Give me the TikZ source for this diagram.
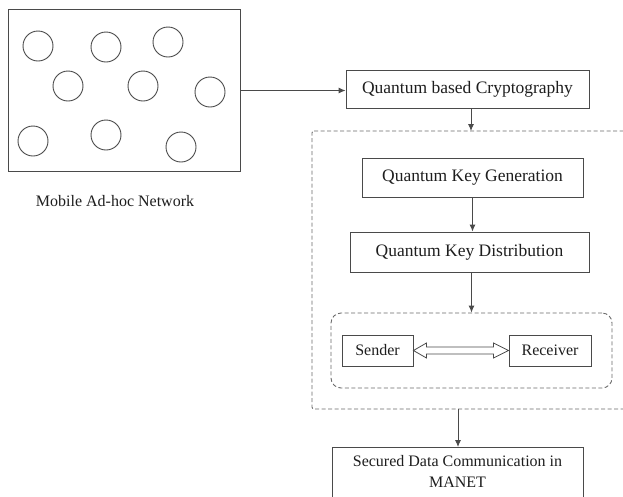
\documentclass[tikz,border=0pt]{standalone}
\usepackage{fontspec}
\setmainfont{Liberation Serif}
\usetikzlibrary{arrows.meta,calc}
\definecolor{ln}{HTML}{4A4A4A}
\definecolor{dl}{HTML}{6A6A6A}
\definecolor{tx}{HTML}{1E1E1E}
\tikzset{
  box/.style={draw=ln, line width=0.9pt, rectangle, inner sep=0pt, text=tx},
  nodec/.style={draw=ln, line width=0.9pt, circle, minimum size=30pt, inner sep=0pt},
  dsh/.style={draw=dl, line width=0.9pt, dash pattern=on 4pt off 2.5pt},
  arr/.style={draw=ln, line width=0.9pt, -{Latex[length=7pt,width=6pt]}},
  big/.style={font=\fontsize{17.5}{20}\selectfont},
  small/.style={font=\fontsize{16}{21}\selectfont},
}
\begin{document}
\begin{tikzpicture}[x=1pt,y=-1pt]
\useasboundingbox (0,0) rectangle (623,496);
\clip (0,0) rectangle (623,496);
\fill[white] (0,0) rectangle (623,496);
% MANET box
\node[box, minimum width=232pt, minimum height=162pt] (manet) at (124,90.5) {};
\node[nodec] (c1) at (38,46) {};
\node[nodec] (c2) at (106,47) {};
\node[nodec] (c3) at (168,42) {};
\node[nodec] (c4) at (68,86) {};
\node[nodec] (c5) at (143,86) {};
\node[nodec] (c6) at (210,92) {};
\node[nodec] (c7) at (33,141) {};
\node[nodec] (c8) at (106,135) {};
\node[nodec] (c9) at (181,147) {};
\node[small, text=tx] (mlabel) at (115,201) {Mobile Ad-hoc Network};
% right column
\node[box, big, minimum width=243pt, minimum height=38pt] (qbc) at (467.5,89.5) {Quantum based Cryptography};
\draw[dsh, rounded corners=2pt] (312,131) -- (640,131) -- (640,409) -- (312,409) -- cycle;
\coordinate (otop) at (471,131);
\coordinate (obot) at (458,409);
\node[box, big, minimum width=221pt, minimum height=39pt] (qkg) at (472.5,177.5) {Quantum Key Generation};
\node[box, big, minimum width=239pt, minimum height=40pt] (qkd) at (469.5,252) {Quantum Key Distribution};
\node[dsh, rounded corners=10pt, rectangle, minimum width=281pt, minimum height=75pt] (inner) at (471.5,350.5) {};
\node[box, small, minimum width=71pt, minimum height=31pt] (snd) at (377.5,350.5) {Sender};
\node[box, small, minimum width=82pt, minimum height=31pt] (rcv) at (550,350.5) {Receiver};
\node[box, minimum width=251pt, minimum height=70pt, anchor=north] (sec) at (457.5,447) {};
\node[small, text=tx, align=center, anchor=north] (sectext) at (457.5,452) {Secured Data Communication in\\MANET};
% connectors
\draw[arr] (manet.east) -- (manet.east -| qbc.west);
\draw[arr] (qbc.south -| otop) -- (otop);
\draw[arr] (qkg.south) -- (qkg.south |- qkd.north);
\draw[arr] (qkd.south -| inner.north) -- (inner.north);
\draw[arr] (obot) -- (obot |- sec.north);
% hollow double arrow
\draw[draw=ln, line width=0.8pt, fill=white, line join=miter]
  (snd.east) -- ++(13,-7.5) -- ++(0,4) -- ($(rcv.west)+(-15,-3.5)$) -- ++(0,-4) -- (rcv.west)
  -- ++(-15,7.5) -- ++(0,-4) -- ($(snd.east)+(13,3.5)$) -- ++(0,4) -- cycle;
\end{tikzpicture}
\end{document}
